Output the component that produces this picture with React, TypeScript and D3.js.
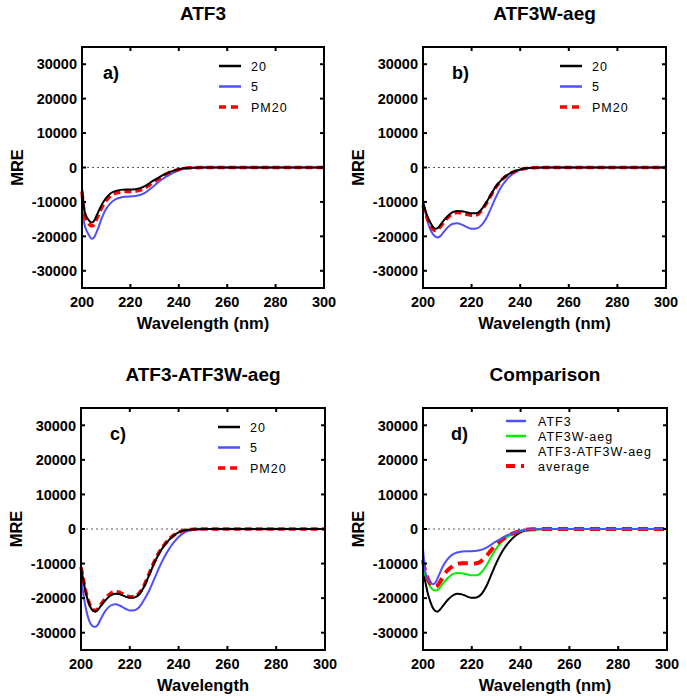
import React from "react";
import * as d3 from "d3";

const WAVELENGTHS = [200,201,202,203,204,205,206,207,208,210,212,214,216,218,220,222,224,226,228,230,232,234,236,238,240,242,245,250,260,270,280,290,300];
const Y_TICKS = [-30000,-20000,-10000,0,10000,20000,30000];
const X_TICKS = [200,220,240,260,280,300];

// Panel a) ATF3
const A_20 = [-6000,-12500,-14500,-15500,-16000,-15500,-14000,-12500,-11000,-8800,-7400,-6800,-6500,-6400,-6400,-6300,-6000,-5400,-4500,-3600,-2800,-2000,-1400,-900,-500,-250,-80,0,0,0,0,0,0];
const A_5 = [-12000,-16500,-18500,-19800,-20700,-20300,-18800,-17000,-15000,-12000,-10200,-9200,-8700,-8500,-8400,-8300,-8000,-7400,-6300,-5200,-4000,-3000,-2200,-1400,-800,-400,-150,0,0,0,0,0,0];
const A_PM20 = [-7000,-13500,-15500,-16500,-17000,-16600,-15000,-13400,-11900,-9600,-8100,-7400,-7100,-7000,-7000,-6900,-6600,-5900,-5000,-4000,-3100,-2200,-1500,-1000,-600,-300,-100,0,0,0,0,0,0];

// Panel b) ATF3W-aeg
const B_20 = [-10000,-12500,-14500,-16000,-17200,-17800,-17600,-16800,-15900,-14200,-13000,-12600,-12700,-13000,-13300,-13300,-12200,-10200,-7800,-5500,-3800,-2500,-1600,-1000,-550,-250,-80,0,0,0,0,0,0];
const B_5 = [-9500,-13000,-16000,-18000,-19300,-20000,-20300,-20000,-19200,-17500,-16400,-16200,-16600,-17300,-17800,-17700,-16800,-14800,-11800,-8600,-5900,-3900,-2400,-1400,-700,-300,-100,0,0,0,0,0,0];
const B_PM20 = [-11000,-13300,-15200,-16700,-17800,-18300,-18100,-17300,-16400,-14700,-13500,-13100,-13200,-13600,-13900,-13800,-12600,-10500,-8000,-5700,-3900,-2600,-1700,-1050,-600,-280,-90,0,0,0,0,0,0];

// Panel c) ATF3-ATF3W-aeg
const C_20 = [-11000,-15000,-18500,-21000,-22800,-23700,-23900,-23300,-22400,-20600,-19300,-18700,-18900,-19500,-19900,-19800,-18800,-16500,-13200,-9900,-7100,-4900,-3200,-1900,-1000,-450,-120,0,0,0,0,0,0];
const C_5 = [-14000,-19000,-23000,-25800,-27500,-28200,-28300,-27600,-26200,-23700,-22200,-21800,-22200,-23000,-23600,-23500,-22500,-20300,-17700,-14500,-11200,-8300,-5900,-3900,-2300,-1200,-400,-50,0,0,0,0,0];
const C_PM20 = [-11000,-14800,-18200,-20700,-22500,-23400,-23600,-23000,-22000,-20100,-18700,-18100,-18400,-19100,-19600,-19500,-18400,-16100,-12800,-9500,-6800,-4700,-3000,-1800,-950,-420,-110,0,0,0,0,0,0];

// Panel d) Comparison
const D_ATF3 = [-5800,-12500,-14500,-15500,-16000,-15600,-14200,-12600,-11000,-8800,-7400,-6800,-6500,-6400,-6400,-6300,-6000,-5400,-4500,-3600,-2800,-2000,-1400,-900,-500,-250,-80,0,0,0,0,0,0];
const D_ATF3W = [-11500,-13500,-15300,-16700,-17500,-17800,-17600,-16900,-16000,-14300,-13100,-12700,-12800,-13100,-13400,-13400,-12500,-10500,-8000,-5700,-3900,-2600,-1700,-1050,-600,-280,-90,0,0,0,0,0,0];
const D_MIX = [-12000,-15500,-18700,-21000,-22800,-23700,-23900,-23300,-22400,-20600,-19300,-18700,-18900,-19500,-19900,-19800,-18800,-16500,-13200,-9900,-7100,-4900,-3200,-1900,-1000,-450,-120,0,0,0,0,0,0];
const D_AVG = [-9000,-12500,-14500,-15800,-16500,-16700,-16300,-15300,-14000,-12000,-10800,-10100,-9900,-9900,-10000,-9900,-9200,-7800,-6100,-4500,-3300,-2300,-1500,-950,-550,-250,-80,0,0,0,0,0,0];

const CONC_LABELS = ["20", "5", "PM20"];
const COMP_LABELS = ["ATF3", "ATF3W-aeg", "ATF3-ATF3W-aeg", "average"];

const BLUE = "#4f4fff";
const RED = "#ff0000";
const GREEN = "#00ee00";
const BLACK = "#000000";
const FONT = "'Liberation Sans', Arial, Helvetica, sans-serif";

type Series = { label: string; values: number[]; color: string; width: number; dash?: string; order: number };

const concSeries = (v20: number[], v5: number[], vpm: number[]): Series[] => [
  { label: CONC_LABELS[0], values: v20, color: BLACK, width: 2, order: 2 },
  { label: CONC_LABELS[1], values: v5, color: BLUE, width: 2, order: 0 },
  { label: CONC_LABELS[2], values: vpm, color: RED, width: 3.5, dash: "7,4", order: 1 },
];

const panels = [
  { title: "ATF3", letter: "a)", letterDx: 21, x0: 82, x1: 324, y0: 47, y1: 288, xlabel: "Wavelength (nm)", series: concSeries(A_20, A_5, A_PM20), comp: false },
  { title: "ATF3W-aeg", letter: "b)", letterDx: 29, x0: 423, x1: 666, y0: 47, y1: 288, xlabel: "Wavelength (nm)", series: concSeries(B_20, B_5, B_PM20), comp: false },
  { title: "ATF3-ATF3W-aeg", letter: "c)", letterDx: 29, x0: 81, x1: 325, y0: 408, y1: 650, xlabel: "Wavelength", series: concSeries(C_20, C_5, C_PM20), comp: false },
  {
    title: "Comparison", letter: "d)", letterDx: 28, x0: 423, x1: 667, y0: 408, y1: 650, xlabel: "Wavelength (nm)", comp: true,
    series: [
      { label: COMP_LABELS[0], values: D_ATF3, color: BLUE, width: 2, order: 3 },
      { label: COMP_LABELS[1], values: D_ATF3W, color: GREEN, width: 2, order: 1 },
      { label: COMP_LABELS[2], values: D_MIX, color: BLACK, width: 2, order: 0 },
      { label: COMP_LABELS[3], values: D_AVG, color: RED, width: 4, dash: "10,6", order: 2 },
    ] as Series[],
  },
];

function Panel({ p }: { p: typeof panels[number] }) {
  const x = d3.scaleLinear().domain([200, 300]).range([p.x0, p.x1]);
  const y = d3.scaleLinear().domain([-35000, 35000]).range([p.y1, p.y0]);
  const line = d3.line<number>()
    .x((_, i) => x(WAVELENGTHS[i]))
    .y((v) => y(v))
    .curve(d3.curveMonotoneX);
  const drawOrder = [...p.series].sort((a, b) => a.order - b.order);
  const tickLen = 4;
  const cx = (p.x0 + p.x1) / 2;
  const cy = (p.y0 + p.y1) / 2;

  const legendRows = p.comp
    ? p.series.map((s, i) => ({ s, ly: p.y0 + 13 + i * 15, lx0: p.x0 + 83, lx1: p.x0 + 103, tx: p.x0 + 115 }))
    : p.series.map((s, i) => ({ s, ly: p.y0 + 19 + i * 20.5, lx0: p.x0 + 137, lx1: p.x0 + 159, tx: p.x0 + 169 }));

  return (
    <g>
      <text x={cx} y={p.y0 - 27} textAnchor="middle" fontSize={19} fontWeight="bold" fontFamily={FONT}>{p.title}</text>
      <line x1={p.x0} x2={p.x1} y1={y(0)} y2={y(0)} stroke="#555" strokeWidth={1} strokeDasharray="2,3" />
      {drawOrder.map((s) => (
        <path key={s.label} d={line(s.values) || ""} fill="none" stroke={s.color} strokeWidth={s.width}
          strokeDasharray={s.dash} strokeLinejoin="round" />
      ))}
      <rect x={p.x0} y={p.y0} width={p.x1 - p.x0} height={p.y1 - p.y0} fill="none" stroke="#000" strokeWidth={2} />
      {Y_TICKS.map((t) => (
        <g key={"y" + t}>
          <line x1={p.x0} x2={p.x0 + tickLen} y1={y(t)} y2={y(t)} stroke="#000" strokeWidth={2} />
          <line x1={p.x1} x2={p.x1 - tickLen} y1={y(t)} y2={y(t)} stroke="#000" strokeWidth={2} />
          <text x={p.x0 - 5} y={y(t)} dy="0.36em" textAnchor="end" fontSize={14.5} fontWeight="bold" fontFamily={FONT}>{t}</text>
        </g>
      ))}
      {X_TICKS.map((t) => (
        <g key={"x" + t}>
          <line x1={x(t)} x2={x(t)} y1={p.y1} y2={p.y1 - tickLen} stroke="#000" strokeWidth={2} />
          <line x1={x(t)} x2={x(t)} y1={p.y0} y2={p.y0 + tickLen} stroke="#000" strokeWidth={2} />
          <text x={x(t)} y={p.y1 + 14} dy="0.36em" textAnchor="middle" fontSize={14.5} fontWeight="bold" fontFamily={FONT}>{t}</text>
        </g>
      ))}
      <text x={cx} y={p.y1 + 41} textAnchor="middle" fontSize={16.5} fontWeight="bold" fontFamily={FONT}>{p.xlabel}</text>
      <text transform={`translate(${p.x0 - 65},${cy}) rotate(-90)`} textAnchor="middle" dy="0.36em" fontSize={16.5} fontWeight="bold" fontFamily={FONT}>MRE</text>
      <text x={p.x0 + p.letterDx} y={p.y0 + 32} fontSize={18} fontWeight="bold" fontFamily={FONT}>{p.letter}</text>
      {legendRows.map(({ s, ly, lx0, lx1, tx }) => (
        <g key={"lg" + s.label}>
          <line x1={lx0} x2={lx1} y1={ly} y2={ly} stroke={s.color} strokeWidth={s.dash ? (p.comp ? 4 : 3.5) : 2.5}
            strokeDasharray={s.dash ? (p.comp ? "9,6,3,5" : "7,5") : undefined} />
          <text x={tx} y={ly} dy="0.36em" fontSize={12.5} letterSpacing={1} fontFamily={FONT}>{s.label}</text>
        </g>
      ))}
    </g>
  );
}

export default function App() {
  return (
    <svg width={687} height={700} style={{ position: "absolute", left: 0, top: 0, background: "#fff" }}>
      <rect width={687} height={700} fill="#fff" />
      {panels.map((p) => <Panel key={p.title} p={p} />)}
    </svg>
  );
}
